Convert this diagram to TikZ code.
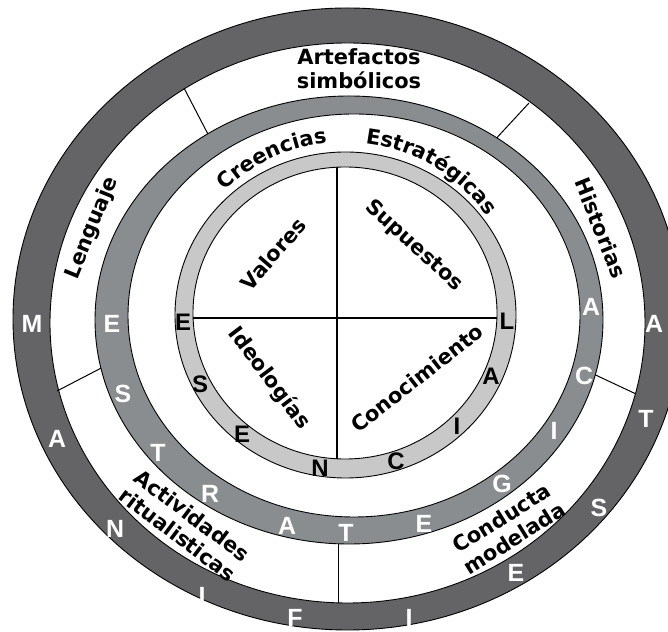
\documentclass[tikz,border=0pt]{standalone}
\usepackage{fontspec}
\setmainfont{DejaVu Sans}
\newfontfamily\ringfont{Liberation Sans}
\usetikzlibrary{decorations.text}
\definecolor{ringdark}{RGB}{100,100,102}
\definecolor{ringmid}{RGB}{138,141,144}
\definecolor{ringlight}{RGB}{200,200,200}
\newcommand{\labsize}{\bfseries\fontsize{21}{24}\selectfont}
\begin{document}
\begin{tikzpicture}[x=1bp,y=1bp,
  edge/.style={draw=black,line width=0.9bp},
  divider/.style={draw=black,line width=1bp},
  crossline/.style={draw=black,line width=1.4bp},
  lab/.style={font=\labsize, align=center, inner sep=0pt, text=black},
  wl/.style={text=white, font=\ringfont\bfseries\fontsize{25}{25}\selectfont, inner sep=0pt},
  bl/.style={text=black, font=\ringfont\bfseries\fontsize{24}{24}\selectfont, inner sep=0pt}]
\useasboundingbox (0,0) rectangle (668,632);
\clip (0,0) rectangle (668,632);
% outer dark ring
\filldraw[fill=ringdark, edge] (347.5,313) ellipse [x radius=334.5, y radius=311];
\filldraw[fill=white, edge] (347.5,309) ellipse [x radius=297.5, y radius=280];
% dividers in the white band
\coordinate (d1o) at (184,544); \coordinate (d1i) at (211,492);
\coordinate (d2o) at (529,529); \coordinate (d2i) at (492,489);
\coordinate (d3o) at (635,238.5); \coordinate (d3i) at (587,261);
\coordinate (d4o) at (57,241); \coordinate (d4i) at (109,268);
\coordinate (d5o) at (338,29); \coordinate (d5i) at (338,100);
\draw[divider] (d1o) -- (d1i);
\draw[divider] (d2o) -- (d2i);
\draw[divider] (d3o) -- (d3i);
\draw[divider] (d4o) -- (d4i);
\draw[divider] (d5o) -- (d5i);
% middle ring
\filldraw[fill=ringmid, edge] (349,312) ellipse [x radius=254, y radius=224];
\filldraw[fill=white, edge] (354,316.5) ellipse [x radius=226, y radius=201.5];
% inner ring
\filldraw[fill=ringlight, edge] (345.5,317) ellipse [x radius=170.5, y radius=163];
\filldraw[fill=white, edge] (345,319) ellipse [x radius=152, y radius=146];
% cross
\begin{scope}
\clip (345,319) ellipse [x radius=152, y radius=146];
\coordinate (hl) at (150,314); \coordinate (hr) at (540,314);
\coordinate (vt) at (337,480); \coordinate (vb) at (337,150);
\draw[crossline] (hl) -- (hr);
\draw[crossline] (vt) -- (vb);
\end{scope}
% outer ring letters
\foreach \c/\x/\y [count=\i] in {M/32/308, A/57/193, N/115/103, I/202/36, F/295/14, I/409/14, E/516/59, S/599/124, T/646/213, A/654/308}
  \node[wl] (o\i) at (\x,\y) {\c};
% middle ring letters
\foreach \c/\x/\y [count=\i] in {E/112/308, S/123/238, T/158/179, R/210/138, A/287/106, T/346/99, E/424/108, G/502/148, I/554/201, C/584/256, A/591/325}
  \node[wl] (m\i) at (\x,\y) {\c};
% inner ring letters
\foreach \c/\x/\y [count=\i] in {E/183/310, S/200/248, E/242/198, N/320/164, C/396/171, I/457/206, A/491/256, L/507/311}
  \node[bl] (n\i) at (\x,\y) {\c};
% band labels
\node[lab] (art) at (359,563) {Artefactos\\simbólicos};
\node[lab, rotate=68] (len) at (92,404) {Lenguaje};
\node[lab, rotate=-68] (his) at (601,404) {Historias};
\node[lab, rotate=-37] (act) at (185,107) {Actividades\\ritualisticas};
\node[lab, rotate=32] (con) at (508,104) {Conducta\\modelada};
% quadrant labels
\node[lab, rotate=49] (val) at (273,378) {Valores};
\node[lab, rotate=-42] (sup) at (414,386) {Supuestos};
\node[lab, rotate=-53] (ide) at (269,254) {Ideologías};
\node[lab, rotate=38] (cno) at (417,254) {Conocimiento};
% curved labels
\path[decorate, decoration={text along path, text align=center,
  text={|\labsize|Creencias}}]
  (345,317) ++(150:173) arc[start angle=150, end angle=80, radius=173];
\path[decorate, decoration={text along path, text align=center,
  text={|\labsize|Estratégicas}}]
  (345,317) ++(100:173) arc[start angle=100, end angle=18, radius=173];
\end{tikzpicture}
\end{document}
